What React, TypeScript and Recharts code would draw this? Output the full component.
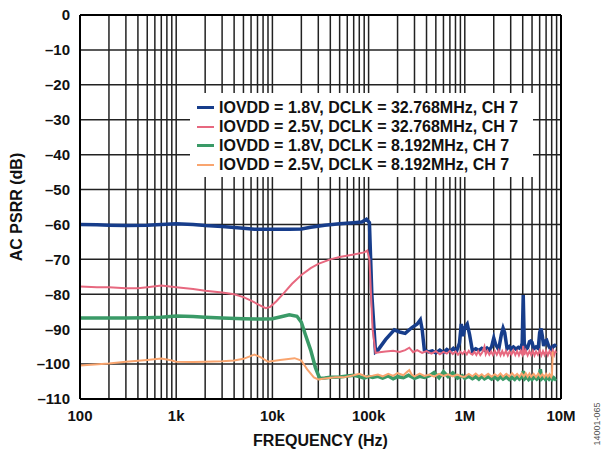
import { LineChart, Line, XAxis, YAxis, CartesianGrid, Legend, Label, ReferenceLine } from "recharts";

const FONT = '"Liberation Sans", Arial, Helvetica, sans-serif';

// axis ticks
const decades = [100, 1000, 10000, 100000, 1000000, 10000000];
const decadeLabels = ["100", "1k", "10k", "100k", "1M", "10M"];
const yTicks = [0, -10, -20, -30, -40, -50, -60, -70, -80, -90, -100, -110];
const gridFreqs = decades
    .slice(0, 5)
    .flatMap((d) => [1, 2, 3, 4, 5, 6, 7, 8, 9].map((m) => m * d))
    .concat([10000000]);

// IOVDD = 1.8V, DCLK = 32.768MHz
const blueFreq = [
    100, 150, 200, 300, 500, 700, 1000, 1500, 2000, 3000,
    5000, 6500, 8000, 10000, 15000, 20000, 25000, 35000, 50000, 70000,
    85000, 95000, 102000, 108000, 118000, 125000, 150000, 185000, 210000, 240000,
    280000, 320000, 345000, 360000, 380000, 420000, 460000, 500000, 550000, 600000,
    650000, 700000, 760000, 820000, 880000, 920000, 960000, 1000000, 1060000, 1120000,
    1200000, 1300000, 1400000, 1500000, 1600000, 1700000, 1800000, 1900000, 2000000, 2100000,
    2250000, 2400000, 2500000, 2600000, 2750000, 2900000, 3000000, 3200000, 3400000, 3600000,
    3800000, 3950000, 4050000, 4150000, 4300000, 4500000, 4700000, 4850000, 5000000, 5200000,
    5500000, 5800000, 6000000, 6200000, 6400000, 6600000, 6900000, 7100000, 7400000, 7700000,
    8000000, 8300000, 8600000, 8900000,
];
const blueDb = [
    -60, -60.1, -60.2, -60.3, -60.2, -60, -59.8, -60, -60.3, -60.6,
    -61.1, -61.4, -61.4, -61.4, -61.4, -61.3, -60.8, -60.2, -59.8, -59.5,
    -59.3, -58.5, -59.5, -80, -96.5, -96, -93, -90.2, -90.8, -91.2,
    -89.6, -88.5, -87.3, -90, -96, -96.5, -96.2, -96.8, -96, -96.7,
    -95.8, -96.4, -95.5, -96.3, -94, -88.5, -92, -89.5, -88.5, -91.5,
    -96.2, -95.6, -96.1, -95.5, -96, -95.4, -96, -95, -92.5, -94.5,
    -95.8, -91.5, -89.7, -91, -95.6, -95, -95.6, -95.1, -95.7, -95.2,
    -95.6, -94, -80.2, -94, -95.8, -95.3, -93.6, -93.4, -93.8, -95.6,
    -95.1, -95.5, -91, -89.8, -92, -94.8, -93.4, -93.2, -94.6, -95.5,
    -95.8, -94.8, -94.6, -95,
];

// IOVDD = 2.5V, DCLK = 32.768MHz
const pinkFreq = [
    100, 150, 200, 300, 400, 500, 700, 1000, 1500, 2000,
    3000, 4000, 5000, 6000, 7000, 8500, 9500, 11000, 13000, 16000,
    20000, 25000, 30000, 40000, 50000, 70000, 90000, 97000, 102000, 110000,
    118000, 130000, 150000, 180000, 210000, 240000, 265000, 290000, 320000, 360000,
    400000, 450000, 500000, 550000, 600000, 650000, 700000, 750000, 800000, 850000,
    900000, 950000, 1000000, 1050000, 1100000, 1150000, 1200000, 1260000, 1320000, 1380000,
    1450000, 1520000, 1600000, 1650000, 1720000, 1800000, 1880000, 1960000, 2050000, 2150000,
    2250000, 2350000, 2450000, 2550000, 2680000, 2800000, 2920000, 3050000, 3200000, 3350000,
    3500000, 3650000, 3800000, 3950000, 4050000, 4150000, 4300000, 4500000, 4700000, 4900000,
    5100000, 5300000, 5500000, 5750000, 6000000, 6250000, 6500000, 6750000, 7000000, 7300000,
    7600000, 7900000, 8200000, 8500000, 8750000, 8900000,
];
const pinkDb = [
    -77.8, -78, -78, -78.3, -78.3, -78, -77.5, -78, -78.5, -79,
    -79.5, -80, -80.8, -81.8, -82.8, -84, -83.6, -82, -79.8, -77,
    -74.5, -72.5, -71.3, -70, -69.3, -68.6, -68, -67.5, -70, -90,
    -96.8, -96.6, -96.4, -96.2, -96.5, -96, -95.3, -96.6, -96, -96.8,
    -96.3, -97, -96.3, -97.2, -96.5, -97, -96.2, -97.1, -96.4, -97.3,
    -96.5, -97.1, -96.3, -97.2, -96.2, -97, -97.3, -96.5, -97.4, -96.3,
    -97.4, -96.6, -95, -97.2, -96.2, -97.3, -96.4, -97.4, -96.2, -97.3,
    -96.1, -97.5, -96.3, -97.4, -96.2, -97.5, -96.4, -97.3, -96.1, -97.4,
    -96.3, -97.5, -96.2, -97.2, -94.8, -97.4, -96.1, -97.5, -96.3, -97.4,
    -96.2, -97.5, -96.4, -97.3, -96.1, -97.5, -96.3, -97.4, -96.2, -97.5,
    -96.3, -97.4, -96.1, -97.4, -96.4, -96.8,
];

// IOVDD = 1.8V, DCLK = 8.192MHz
const greenFreq = [
    100, 200, 300, 500, 700, 1000, 1500, 2000, 3000, 5000,
    8000, 10000, 12000, 15000, 18000, 20000, 22000, 25000, 28000, 31000,
    35000, 40000, 50000, 60000, 70000, 80000, 90000, 100000, 110000, 125000,
    140000, 160000, 180000, 200000, 230000, 260000, 300000, 340000, 380000, 430000,
    480000, 540000, 600000, 670000, 750000, 840000, 940000, 1000000, 1100000, 1200000,
    1300000, 1400000, 1500000, 1600000, 1750000, 1900000, 2050000, 2200000, 2350000, 2500000,
    2700000, 2900000, 3100000, 3300000, 3500000, 3700000, 3900000, 4050000, 4200000, 4400000,
    4600000, 4800000, 5000000, 5300000, 5600000, 5900000, 6100000, 6300000, 6600000, 6900000,
    7200000, 7500000, 7800000, 8100000, 8400000, 8700000, 8900000,
];
const greenDb = [
    -86.8, -86.8, -86.8, -86.7, -86.6, -86.2, -86.4, -86.6, -86.8, -87,
    -87.1, -87, -86.5, -85.9, -86.3, -88, -91.5, -96, -101, -104.1,
    -104, -103.8, -103.7, -103.4, -103.2, -103.6, -104, -103.5, -103.8, -103.5,
    -104, -103.4, -104.2, -103.6, -103.9, -103.2, -104.1, -103.5, -103.8, -103.3,
    -102.4, -103.9, -102.2, -103.6, -102.5, -104, -103.3, -104.1, -103.5, -104.2,
    -103.6, -104.3, -103.5, -104.2, -103.6, -104.3, -103.7, -104.4, -103.6, -104.3,
    -103.7, -104.4, -103.8, -104.4, -103.6, -104.3, -103.8, -102, -104.2, -103.7,
    -104.4, -103.8, -104.4, -103.7, -104.3, -103.8, -101.5, -104.2, -103.7, -104.4,
    -103.8, -104.3, -103.7, -104.4, -103.9, -104.3, -104.1,
];

// IOVDD = 2.5V, DCLK = 8.192MHz
const orangeFreq = [
    100, 200, 300, 500, 700, 850, 1000, 1500, 2000, 3000,
    4000, 5000, 6500, 7500, 9000, 12000, 17000, 20000, 23000, 27000,
    30000, 35000, 45000, 55000, 70000, 80000, 95000, 110000, 125000, 140000,
    160000, 180000, 200000, 230000, 250000, 265000, 280000, 300000, 340000, 380000,
    430000, 480000, 540000, 600000, 670000, 750000, 840000, 940000, 1000000, 1100000,
    1200000, 1300000, 1400000, 1500000, 1600000, 1750000, 1900000, 2050000, 2200000, 2350000,
    2500000, 2700000, 2900000, 3100000, 3300000, 3500000, 3700000, 3900000, 4100000, 4300000,
    4500000, 4700000, 4900000, 5200000, 5500000, 5800000, 6100000, 6400000, 6700000, 7000000,
    7300000, 7600000, 7900000, 8050000, 8200000,
];
const orangeDb = [
    -100.4, -99.8, -99.3, -98.8, -98.4, -98.8, -99.3, -99.4, -99.3, -99.2,
    -99, -98.5, -97.3, -98, -99.3, -98.8, -98.3, -99, -101.5, -103.8,
    -104.4, -104.1, -103.8, -103.8, -103.2, -102.8, -103.6, -103.3, -103, -103.5,
    -102.8, -103.4, -102.6, -103.2, -102.3, -101.7, -103, -103.5, -102.7, -103.4,
    -103, -103.6, -102.8, -103.4, -102.9, -103.5, -103, -103.6, -103.6, -102.8,
    -103.5, -102.7, -103.5, -102.9, -103.6, -102.8, -103.6, -102.9, -103.5, -102.7,
    -103.6, -102.8, -103.5, -102.6, -103.5, -102.8, -103.6, -102.7, -103.5, -102.6,
    -103.6, -102.7, -103.6, -102.8, -103.7, -102.7, -103.6, -102.9, -103.7, -102.8,
    -103.6, -102.9, -103.7, -103.2, -96.4,
];

const toPoints = (f: number[], db: number[]) => f.map((v, i) => ({ f: v, db: db[i] }));

const series = [
    { name: "IOVDD = 1.8V, DCLK = 32.768MHz, CH 7", color: "#173d8b", width: 3.5, data: toPoints(blueFreq, blueDb) },
    { name: "IOVDD = 2.5V, DCLK = 32.768MHz, CH 7", color: "#e7687f", width: 2, data: toPoints(pinkFreq, pinkDb) },
    { name: "IOVDD = 1.8V, DCLK = 8.192MHz, CH 7", color: "#3a9a67", width: 3.5, data: toPoints(greenFreq, greenDb) },
    { name: "IOVDD = 2.5V, DCLK = 8.192MHz, CH 7", color: "#f9a56f", width: 2, data: toPoints(orangeFreq, orangeDb) },
];

const fmtX = (v: number) => {
    const i = decades.indexOf(v);
    return i >= 0 ? decadeLabels[i] : "";
};

const renderLegend = () => (
    <div style={{ background: "#fff", padding: "5px 0 3px 7px", fontFamily: FONT, fontWeight: 700, fontSize: 16, color: "#111" }}>
        {series.map((s) => (
            <div key={s.name} style={{ display: "flex", alignItems: "center", height: 19, whiteSpace: "nowrap" }}>
                <span style={{ display: "inline-block", width: 17, height: s.width, background: s.color, marginRight: 5 }} />
                <span>{s.name}</span>
            </div>
        ))}
    </div>
);

export default function App() {
    return (
        <div style={{ position: "absolute", left: 0, top: 0, background: "#fff" }}>
            <LineChart width={602} height={452} margin={{ top: 15, right: 41, bottom: 0, left: 0 }}>
                <CartesianGrid stroke="#222" strokeWidth={1.5} />
                <XAxis
                    type="number"
                    dataKey="f"
                    scale="log"
                    domain={[100, 10000000]}
                    ticks={gridFreqs}
                    interval={0}
                    tickFormatter={fmtX}
                    allowDataOverflow
                    height={53}
                    tickSize={0}
                    tickMargin={11}
                    axisLine={{ stroke: "#000", strokeWidth: 2 }}
                    tick={{ fill: "#111", fontSize: 15, fontWeight: 700, fontFamily: FONT }}
                >
                    <Label
                        content={({ viewBox }: any) => (
                            <g>
                                <text
                                    x={viewBox.x + viewBox.width / 2}
                                    y={viewBox.y + 47}
                                    textAnchor="middle"
                                    fontFamily={FONT}
                                    fontSize={16}
                                    fontWeight={700}
                                    fill="#111"
                                >
                                    FREQUENCY (Hz)
                                </text>
                                <text
                                    x={597}
                                    y={424}
                                    transform="rotate(-90 597 424)"
                                    textAnchor="middle"
                                    dominantBaseline="central"
                                    fontFamily={FONT}
                                    fontSize={9}
                                    fill="#555"
                                >
                                    14001-065
                                </text>
                            </g>
                        )}
                    />
                </XAxis>
                <YAxis
                    type="number"
                    domain={[-110, 0]}
                    ticks={yTicks}
                    interval={0}
                    width={80}
                    tickSize={0}
                    tickMargin={10}
                    tickFormatter={(v: number) => (v < 0 ? "\u2013" + Math.abs(v) : String(v))}
                    axisLine={{ stroke: "#000", strokeWidth: 2 }}
                    tick={{ fill: "#111", fontSize: 15, fontWeight: 700, fontFamily: FONT }}
                >
                    <Label
                        content={({ viewBox }: any) => {
                            const cx = viewBox.x + 16;
                            const cy = viewBox.y + viewBox.height / 2;
                            return (
                                <text
                                    x={cx}
                                    y={cy}
                                    transform={`rotate(-90 ${cx} ${cy})`}
                                    textAnchor="middle"
                                    dominantBaseline="central"
                                    fontFamily={FONT}
                                    fontSize={16}
                                    fontWeight={700}
                                    fill="#111"
                                >
                                    AC PSRR (dB)
                                </text>
                            );
                        }}
                    />
                </YAxis>
                <ReferenceLine y={0} stroke="#000" strokeWidth={2} />
                <ReferenceLine x={10000000} stroke="#000" strokeWidth={2} />
                {series.map((s) => (
                    <Line
                        key={s.name}
                        name={s.name}
                        data={s.data}
                        dataKey="db"
                        type="linear"
                        stroke={s.color}
                        strokeWidth={s.width}
                        dot={false}
                        activeDot={false}
                        isAnimationActive={false}
                    />
                ))}
                <Legend
                    layout="vertical"
                    align="center"
                    verticalAlign="middle"
                    content={renderLegend}
                    wrapperStyle={{ left: 190, top: 93, width: 343 }}
                />
            </LineChart>
        </div>
    );
}
